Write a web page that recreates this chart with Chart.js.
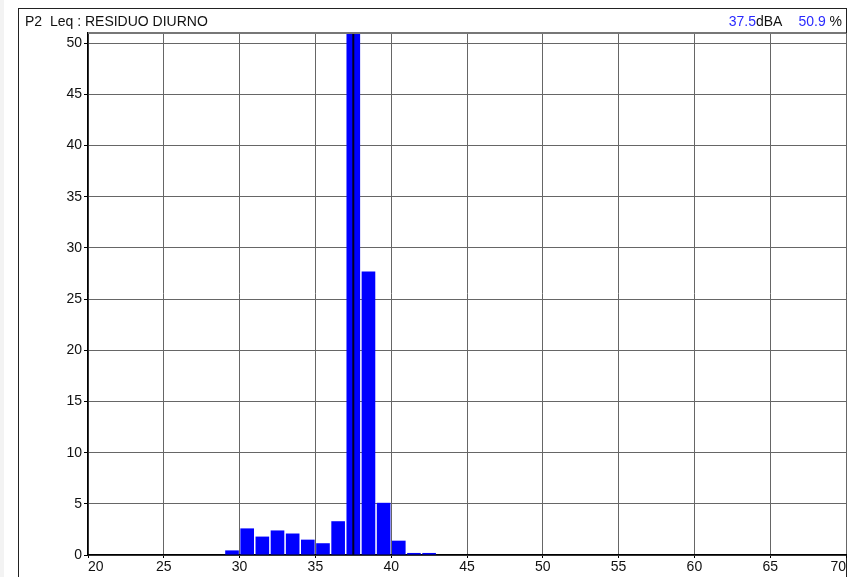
<!DOCTYPE html>
<html lang="es">
<head>
<meta charset="UTF-8">
<title>P2 Leq : RESIDUO DIURNO</title>
<script src="https://cdn.jsdelivr.net/npm/chart.js"></script>
<style>
    body {
        margin: 0;
        padding: 0;
        background: #fff;
    }
    #grafico {
        display: block;
    }
</style>
</head>
<body>
<canvas id="grafico" width="847" height="577"></canvas>
<script>
    // datos (clases de 1 dB, porcentaje de tiempo)
    const titulo = 'P2  Leq : RESIDUO DIURNO';
    const centrosClase = [29.5, 30.5, 31.5, 32.5, 33.5, 34.5, 35.5, 36.5, 37.5, 38.5, 39.5, 40.5, 41.5, 42.5];
    const porcentajes = [0.45, 2.6, 1.8, 2.4, 2.1, 1.5, 1.15, 3.3, 50.9, 27.7, 5.1, 1.4, 0.2, 0.2];
    const nivelMarcado = 37.5;   // dBA
    const pctMarcado = 50.9;     // %
    const ticksX = [20, 25, 30, 35, 40, 45, 50, 55, 60, 65, 70];
    const ticksY = [0, 5, 10, 15, 20, 25, 30, 35, 40, 45, 50];

    const fuente = "'Liberation Sans', Arial, sans-serif";
    const azul = '#0000ff';
    const azulTexto = '#2a2aff';

    const marco = {
        id: 'marco',
        beforeDraw(chart) {
            const ctx = chart.ctx;
            ctx.save();
            ctx.fillStyle = '#fff';
            ctx.fillRect(0, 0, chart.width, chart.height);
            ctx.fillStyle = '#f3f3f3';
            ctx.fillRect(0, 0, 4, chart.height);
            ctx.strokeStyle = '#222';
            ctx.lineWidth = 1;
            ctx.strokeRect(18.5, 8.5, chart.width - 19, chart.height + 10);

            // titulo
            ctx.font = '14px ' + fuente;
            ctx.textBaseline = 'alphabetic';
            ctx.textAlign = 'left';
            ctx.fillStyle = '#111';
            ctx.fillText(titulo, 25, 26);

            // lectura de la derecha, de derecha a izquierda
            let x = 842;
            const dibujar = (txt, color) => {
                const w = ctx.measureText(txt).width;
                x -= w;
                ctx.fillStyle = color;
                ctx.fillText(txt, x, 26);
            };
            dibujar(' %', '#111');
            dibujar(pctMarcado.toFixed(1), azulTexto);
            x -= 16;
            dibujar('dBA', '#111');
            dibujar(nivelMarcado.toFixed(1), azulTexto);
            ctx.restore();
        },
        afterDatasetsDraw(chart) {
            const ctx = chart.ctx;
            const a = chart.chartArea;
            const px = chart.scales.x.getPixelForValue(nivelMarcado);
            ctx.save();
            // linea del nivel marcado
            ctx.strokeStyle = '#000022';
            ctx.lineWidth = 2;
            ctx.beginPath();
            ctx.moveTo(px, a.top);
            ctx.lineTo(px, a.bottom);
            ctx.stroke();
            // borde superior del area
            ctx.strokeStyle = '#777';
            ctx.lineWidth = 2;
            ctx.beginPath();
            ctx.moveTo(a.left, a.top);
            ctx.lineTo(a.right, a.top);
            ctx.stroke();
            ctx.restore();
        }
    };

    new Chart(document.getElementById('grafico'), {
        type: 'bar',
        data: {
            datasets: [{
                data: centrosClase.map((c, i) => ({ x: c, y: porcentajes[i] })),
                backgroundColor: azul,
                borderWidth: 0,
                barPercentage: 0.9,
                categoryPercentage: 1
            }]
        },
        options: {
            responsive: false,
            animation: false,
            devicePixelRatio: 1,
            layout: { padding: { left: 18, top: 33, right: 0, bottom: 0 } },
            plugins: {
                legend: { display: false },
                tooltip: { enabled: false }
            },
            scales: {
                x: {
                    type: 'linear',
                    min: ticksX[0],
                    max: ticksX[ticksX.length - 1],
                    offset: false,
                    afterFit(scale) { scale.height = 22; },
                    afterBuildTicks(scale) { scale.ticks = ticksX.map(v => ({ value: v })); },
                    border: { display: true, color: '#000', width: 1.5 },
                    grid: {
                        offset: false,
                        color: '#666',
                        lineWidth: 1,
                        borderDash: [1, 1],
                        tickColor: '#000',
                        tickLength: 3,
                        tickBorderDash: []
                    },
                    ticks: {
                        align: 'inner',
                        padding: 1,
                        maxRotation: 0,
                        autoSkip: false,
                        color: '#111',
                        font: { family: fuente, size: 14 }
                    }
                },
                y: {
                    min: 0,
                    max: 51,
                    afterFit(scale) { scale.width = 70; },
                    afterBuildTicks(scale) { scale.ticks = ticksY.map(v => ({ value: v })); },
                    border: { display: true, color: '#000', width: 1.5 },
                    grid: {
                        color: '#666',
                        lineWidth: 1,
                        borderDash: [1, 1],
                        tickColor: '#000',
                        tickLength: 4,
                        tickBorderDash: []
                    },
                    ticks: {
                        padding: 2,
                        color: '#111',
                        font: { family: fuente, size: 14 }
                    }
                }
            }
        },
        plugins: [marco]
    });
</script>
</body>
</html>
